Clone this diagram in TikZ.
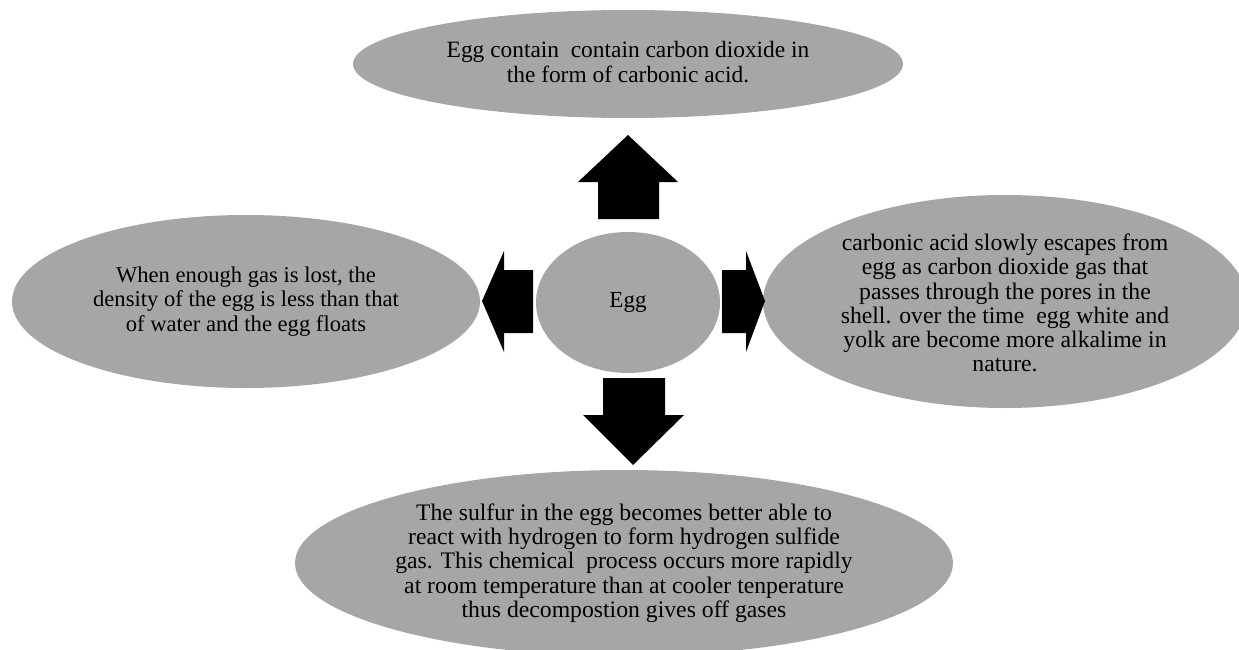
\documentclass[tikz,border=0pt]{standalone}
\usepackage{fontspec}
\setmainfont{Liberation Serif}
\usetikzlibrary{shapes.geometric}
\definecolor{eggray}{HTML}{A6A6A6}
\tikzset{
  bubble/.style={ellipse, fill=eggray, draw=none, inner sep=0pt},
  lbl/.style={align=center, text=black, inner sep=0pt},
  blockarrow/.style={fill=black, draw=none}
}
\begin{document}
\begin{tikzpicture}[x=1pt,y=-1pt]
\useasboundingbox (0,0) rectangle (1239,650);
% ellipses
\node[bubble, minimum width=550pt, minimum height=108pt] (top) at (628,64) {};
\node[bubble, minimum width=184pt, minimum height=141pt] (egg) at (628,302.5) {};
\node[bubble, minimum width=468pt, minimum height=173pt] (left) at (246,301.5) {};
\node[bubble, minimum width=484pt, minimum height=213pt] (right) at (1005,301.5) {};
\node[bubble, minimum width=658pt, minimum height=186pt] (bottom) at (624,563) {};
% texts
\node[lbl, font=\fontsize{23.4}{25}\selectfont] (ttop) at ([yshift=1.5pt]top.center) {Egg contain\ \ contain carbon\ dioxide in\\the form of carbonic acid.};
\node[lbl, font=\fontsize{23}{24}\selectfont] (tegg) at (egg.center) {Egg};
\node[lbl, font=\fontsize{22.6}{24.5}\selectfont] (tleft) at (left.center) {When enough gas is lost, the\\density of the egg is less than that\\of water and the egg floats};
\node[lbl, font=\fontsize{23.7}{24.3}\selectfont] (tright) at ([yshift=-1.5pt]right.center) {carbonic acid slowly escapes from\\egg as carbon dioxide gas that\\passes through the pores in the\\shell. over the time\ \ egg white and\\yolk are become more alkalime in\\nature.};
\node[lbl, font=\fontsize{23.7}{24.3}\selectfont] (tbottom) at (bottom.center) {The sulfur in the egg becomes better able to\\react with hydrogen to form hydrogen sulfide\\gas. This chemical\ \ process occurs more rapidly\\at room temperature than at cooler tenperature\\thus decompostion gives off gases};
% block arrows
\fill[blockarrow] (598,219) -- (598,182) -- (578,182) -- (628,135) -- (678,182) -- (659,182) -- (659,219) -- cycle;
\fill[blockarrow] (603,378) -- (665,378) -- (665,415) -- (684,415) -- (633,465) -- (583,415) -- (603,415) -- cycle;
\fill[blockarrow] (533,270) -- (504,270) -- (504,251) -- (482,301) -- (504,352) -- (504,333) -- (533,333) -- cycle;
\fill[blockarrow] (722,270) -- (746,270) -- (746,251) -- (765,301) -- (746,352) -- (746,333) -- (722,333) -- cycle;
\end{tikzpicture}
\end{document}
